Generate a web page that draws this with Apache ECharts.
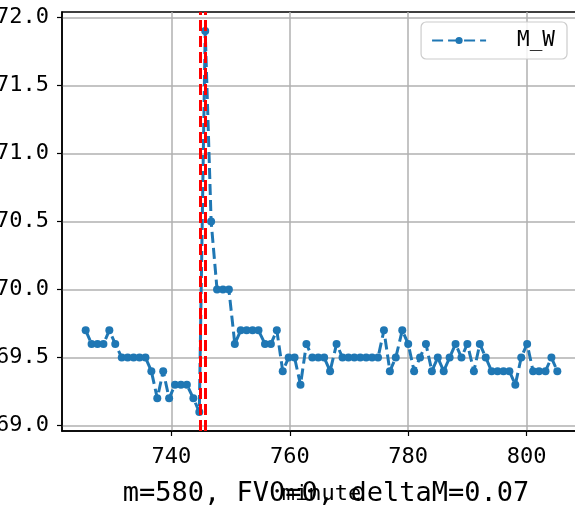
<!DOCTYPE html>
<html>
<head>
<meta charset="utf-8">
<script src="https://cdn.jsdelivr.net/npm/echarts@6/dist/echarts.min.js"></script>
<style>
html, body { margin: 0; padding: 0; background: #fff; overflow: hidden; }
#chart { width: 575px; height: 507px; }
</style>
</head>
<body>
<div id="chart"></div>
<script>
// 时间(分钟)
var minutes = [
	725.5, 726.5, 727.5, 728.5, 729.5, 730.5,
	731.6, 732.6, 733.6, 734.6, 735.6, 736.6, 737.6, 738.6, 739.6, 740.6, 741.6, 742.6,
	743.7, 744.7, 745.7, 746.7, 747.7, 748.7, 749.7, 750.7, 751.7, 752.7, 753.7, 754.7,
	755.8, 756.8, 757.8, 758.8, 759.8, 760.8, 761.8, 762.8, 763.8, 764.8, 765.8, 766.8,
	767.9, 768.9, 769.9, 770.9, 771.9, 772.9, 773.9, 774.9, 775.9, 776.9, 777.9,
	779.0, 780.0, 781.0, 782.0, 783.0, 784.0, 785.0, 786.0, 787.0, 788.0, 789.0, 790.0,
	791.1, 792.1, 793.1, 794.1, 795.1, 796.1, 797.1, 798.1, 799.1, 800.1, 801.1, 802.1,
	803.2, 804.2, 805.2
];
// M_W 数值
var mwValues = [
	69.7, 69.6, 69.6, 69.6, 69.7, 69.6, 69.5, 69.5, 69.5, 69.5,
	69.5, 69.4, 69.2, 69.4, 69.2, 69.3, 69.3, 69.3, 69.2, 69.1,
	71.9, 70.5, 70.0, 70.0, 70.0, 69.6, 69.7, 69.7, 69.7, 69.7,
	69.6, 69.6, 69.7, 69.4, 69.5, 69.5, 69.3, 69.6, 69.5, 69.5,
	69.5, 69.4, 69.6, 69.5, 69.5, 69.5, 69.5, 69.5, 69.5, 69.5,
	69.7, 69.4, 69.5, 69.7, 69.6, 69.4, 69.5, 69.6, 69.4, 69.5,
	69.4, 69.5, 69.6, 69.5, 69.6, 69.4, 69.6, 69.5, 69.4, 69.4,
	69.4, 69.4, 69.3, 69.5, 69.6, 69.4, 69.4, 69.4, 69.5, 69.4
];
// 红色竖线位置
var markMinutes = [744.85, 745.7];
// 刻度
var xTicks = [740, 760, 780, 800];
var yTicks = [69.0, 69.5, 70.0, 70.5, 71.0, 71.5, 72.0];
var titleText = 'm=580, FV0=0, deltaM=0.07';

var FONT = '"DejaVu Sans Mono", monospace';

function initChart(){
	var myChart = echarts.init(document.getElementById('chart'), null, {renderer: 'canvas'});
	var seriesData = [];
	for (var i = 0; i < minutes.length; i++) {
		seriesData.push([minutes[i], mwValues[i]]);
	}
	var markData = [];
	for (var j = 0; j < markMinutes.length; j++) {
		markData.push({xAxis: markMinutes[j]});
	}
	var option = {
		animation: false,
		backgroundColor: '#ffffff',
		title: {
			text: titleText,
			left: 321,
			top: 475,
			textAlign: 'center',
			textStyle: {fontFamily: FONT, fontSize: 27, fontWeight: 'normal', color: '#000'}
		},
		legend: {
			data: ['M_W'],
			right: 8,
			top: 22,
			itemWidth: 54,
			itemHeight: 9,
			padding: [8, 12, 8, 10],
			borderColor: '#cccccc',
			borderWidth: 1.2,
			borderRadius: 5,
			backgroundColor: 'rgba(255,255,255,0.85)',
			textStyle: {fontFamily: FONT, fontSize: 21, color: '#000', padding: [0, 0, 0, 26]}
		},
		grid: {
			left: 62, right: -6, top: 12, bottom: 76,
			outerBoundsMode: 'none',
			containLabel: false,
			show: true,
			borderColor: '#000',
			borderWidth: 1.5
		},
		xAxis: {
			type: 'value',
			min: 721.5,
			max: 809.2,
			name: 'minute',
			nameLocation: 'middle',
			nameGap: 52,
			nameTextStyle: {fontFamily: FONT, fontSize: 22, color: '#000'},
			axisLine: {onZero: false, lineStyle: {color: '#000', width: 1.5}},
			axisTick: {customValues: xTicks, length: 5, lineStyle: {color: '#000', width: 1.2}},
			axisLabel: {customValues: xTicks, margin: 15, fontFamily: FONT, fontSize: 22, color: '#000'},
			splitLine: {show: true, lineStyle: {color: '#b0b0b0', width: 1.5}}
		},
		yAxis: {
			type: 'value',
			min: 68.96,
			max: 72.04,
			axisLine: {show: true, onZero: false, lineStyle: {color: '#000', width: 1.5}},
			axisTick: {show: true, customValues: yTicks, length: 5, lineStyle: {color: '#000', width: 1.2}},
			axisLabel: {
				customValues: yTicks, margin: 13, fontFamily: FONT, fontSize: 22, color: '#000',
				formatter: function (v) { return v.toFixed(1); }
			},
			splitLine: {show: true, lineStyle: {color: '#b0b0b0', width: 1.5}}
		},
		series: [{
			name: 'M_W',
			type: 'line',
			data: seriesData,
			symbol: 'circle',
			symbolSize: 8,
			color: '#1f77b4',
			lineStyle: {color: '#1f77b4', width: 3, type: [11, 5]},
			itemStyle: {color: '#1f77b4'},
			markLine: {
				silent: true,
				symbol: 'none',
				label: {show: false},
				lineStyle: {color: '#ff0000', width: 3, type: [11, 5]},
				data: markData
			}
		}]
	};
	myChart.setOption(option);
}

initChart();
</script>
</body>
</html>
